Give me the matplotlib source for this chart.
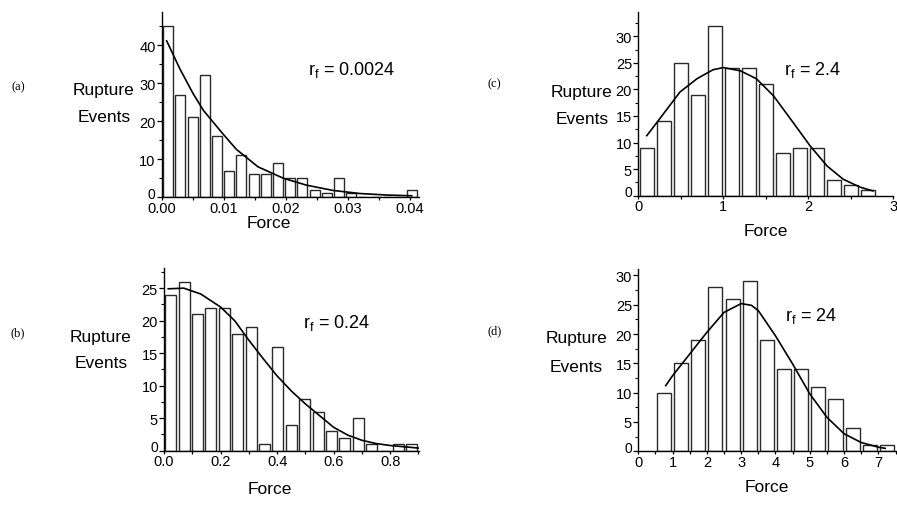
import numpy as np
import matplotlib
matplotlib.use("Agg")
import matplotlib.pyplot as plt
import matplotlib.transforms as mtransforms
from matplotlib.ticker import MultipleLocator, FormatStrFormatter

W, H = 897, 510
plt.rcParams["font.family"] = ["Liberation Sans", "DejaVu Sans"]

# ---- panel (a): r_f = 0.0024 ----
a_start, a_bin = 0.0, 0.00197
a_counts = [45, 27, 21, 32, 16, 7, 11, 6, 6, 9, 5, 5, 2, 1, 5, 1, 0, 0, 0, 0, 2]
a_fit_x = [0.00075, 0.0029, 0.0050, 0.0067, 0.0096, 0.0120, 0.0155, 0.0196,
           0.0233, 0.0276, 0.0319, 0.0362, 0.0403]
a_fit_y = [41.1, 33.7, 27.3, 22.8, 17.1, 12.6, 8.0, 5.0, 3.2, 1.8, 1.0, 0.6, 0.4]

# ---- panel (b): r_f = 0.24 ----
b_start, b_bin = 0.0, 0.0474
b_counts = [24, 26, 21, 22, 22, 18, 19, 1, 16, 4, 8, 6, 3, 2, 5, 1, 0, 1, 1]
b_fit_x = [0.015, 0.07, 0.13, 0.20, 0.25, 0.30, 0.35, 0.40, 0.45, 0.50, 0.55,
           0.60, 0.65, 0.70, 0.75, 0.80, 0.85, 0.90]
b_fit_y = [24.9, 25.0, 24.1, 22.1, 20.0, 17.0, 14.2, 11.5, 9.2, 7.2, 5.4,
           3.6, 2.4, 1.6, 1.1, 0.8, 0.6, 0.4]

# ---- panel (c): r_f = 2.4 ----
c_start, c_bin = 0.0, 0.2
c_counts = [9, 14, 25, 19, 32, 24, 24, 21, 8, 9, 9, 3, 2, 1]
c_fit_x = [0.10, 0.22, 0.49, 0.69, 0.88, 1.00, 1.20, 1.39, 1.59, 1.82, 2.02,
           2.22, 2.41, 2.61, 2.76]
c_fit_y = [11.3, 13.8, 19.5, 22.0, 23.7, 24.1, 23.5, 22.0, 18.8, 13.8, 9.4,
           5.6, 3.1, 1.6, 0.9]

# ---- panel (d): r_f = 24 ----
d_start, d_bin = 0.5, 0.5
d_counts = [10, 15, 19, 28, 26, 29, 19, 14, 14, 11, 9, 4, 1, 1]
d_fit_x = [0.80, 1.0, 1.5, 2.0, 2.5, 3.0, 3.3, 3.5, 4.0, 4.5, 5.0, 5.5, 6.0,
           6.5, 7.0, 7.2]
d_fit_y = [11.2, 12.9, 16.6, 20.3, 23.7, 25.2, 24.9, 24.0, 19.7, 14.9, 9.8,
           5.8, 3.0, 1.5, 0.7, 0.5]

panels = [
    dict(tag="(a)", rf="0.0024", start=a_start, bin=a_bin, counts=a_counts,
         fx=a_fit_x, fy=a_fit_y, box=(162, 13.3, 418.5, 198.3),
         xlim=(0, 0.0414), ylim=(0, 48.6), xmaj=0.01, xmin=0.005,
         ymaj=10, ymin=5, fmt="%.2f",
         tag_xy=(18, 87), rup_xy=(103, 90), ev_xy=(104, 118),
         force_xy=(269, 223), rf_xy=(352, 70)),
    dict(tag="(b)", rf="0.24", start=b_start, bin=b_bin, counts=b_counts,
         fx=b_fit_x, fy=b_fit_y, box=(164, 269, 419.3, 451.7),
         xlim=(0, 0.903), ylim=(0, 28.1), xmaj=0.2, xmin=0.1,
         ymaj=5, ymin=2.5, fmt="%.1f",
         tag_xy=(18, 333), rup_xy=(100, 338), ev_xy=(101, 364),
         force_xy=(270, 490), rf_xy=(337, 323)),
    dict(tag="(c)", rf="2.4", start=c_start, bin=c_bin, counts=c_counts,
         fx=c_fit_x, fy=c_fit_y, box=(638.3, 13.3, 893.3, 196.7),
         xlim=(0, 3.0), ylim=(0, 34.5), xmaj=1, xmin=0.5,
         ymaj=5, ymin=2.5, fmt="%d",
         tag_xy=(494, 84), rup_xy=(581, 92), ev_xy=(582, 120),
         force_xy=(766, 232), rf_xy=(813, 70)),
    dict(tag="(d)", rf="24", start=d_start, bin=d_bin, counts=d_counts,
         fx=d_fit_x, fy=d_fit_y, box=(638.3, 270, 895.5, 452.3),
         xlim=(0, 7.5), ylim=(0, 31.1), xmaj=1, xmin=0.5,
         ymaj=5, ymin=2.5, fmt="%d",
         tag_xy=(495, 331), rup_xy=(576, 339), ev_xy=(576, 367),
         force_xy=(767, 487), rf_xy=(811, 316)),
]

fig = plt.figure(figsize=(W / 100, H / 100), dpi=100)
fig.patch.set_facecolor("white")


def fx(x):
    return x / W


def fy(y):
    return 1 - y / H


for p in panels:
    l, t, r, b = p["box"]
    ax = fig.add_axes([fx(l), fy(b), (r - l) / W, (b - t) / H])
    counts = np.asarray(p["counts"], dtype=float)
    centers = p["start"] + (np.arange(len(counts)) + 0.5) * p["bin"]
    ax.bar(centers, counts, width=p["bin"] * 0.82, color="white",
           edgecolor="#2a2a2a", linewidth=1.0, zorder=2)
    ax.plot(p["fx"], p["fy"], color="black", linewidth=1.2, zorder=3)

    ax.set_xlim(*p["xlim"])
    ax.set_ylim(*p["ylim"])
    ax.xaxis.set_major_locator(MultipleLocator(p["xmaj"]))
    ax.xaxis.set_minor_locator(MultipleLocator(p["xmin"]))
    ax.yaxis.set_major_locator(MultipleLocator(p["ymaj"]))
    ax.yaxis.set_minor_locator(MultipleLocator(p["ymin"]))
    ax.xaxis.set_major_formatter(FormatStrFormatter(p["fmt"]))
    ax.yaxis.set_major_formatter(FormatStrFormatter("%d"))
    for s in ("top", "right"):
        ax.spines[s].set_visible(False)
    for s in ("left", "bottom"):
        ax.spines[s].set_linewidth(1.0)
        ax.spines[s].set_color("black")
    ax.tick_params(axis="y", which="major", direction="out", length=3.5,
                   width=0.9, labelsize=10.5, pad=1.0, colors="black")
    ax.tick_params(axis="y", which="minor", direction="out", length=2,
                   width=0.8)
    ax.tick_params(axis="x", which="major", direction="out", length=2,
                   width=0.9, labelsize=10.5, pad=0.5, colors="black")
    ax.tick_params(axis="x", which="minor", direction="out", length=2,
                   width=0.9)
    ax.set_facecolor("none")

    # lift the y "0" label a little so it clears the x labels at the corner
    fig.canvas.draw()
    for lab in ax.get_yticklabels():
        if lab.get_text() == "0":
            lab.set_transform(lab.get_transform() + mtransforms.ScaledTranslation(
                0, 5 / 100, fig.dpi_scale_trans))
            lab.set_fontsize(10)

    fig.text(fx(p["tag_xy"][0]), fy(p["tag_xy"][1]), p["tag"],
             family="Liberation Serif", fontsize=9, ha="center", va="center")
    fig.text(fx(p["rup_xy"][0]), fy(p["rup_xy"][1]), "Rupture",
             fontsize=12.5, ha="center", va="center")
    fig.text(fx(p["ev_xy"][0]), fy(p["ev_xy"][1]), "Events",
             fontsize=12.5, ha="center", va="center")
    fig.text(fx(p["force_xy"][0]), fy(p["force_xy"][1]), "Force",
             fontsize=12.5, ha="center", va="center")
    fig.text(fx(p["rf_xy"][0]), fy(p["rf_xy"][1]),
             r"r$_\mathregular{f}$ = " + p["rf"],
             fontsize=13, ha="center", va="center")

fig.savefig("out.png", dpi=100)
